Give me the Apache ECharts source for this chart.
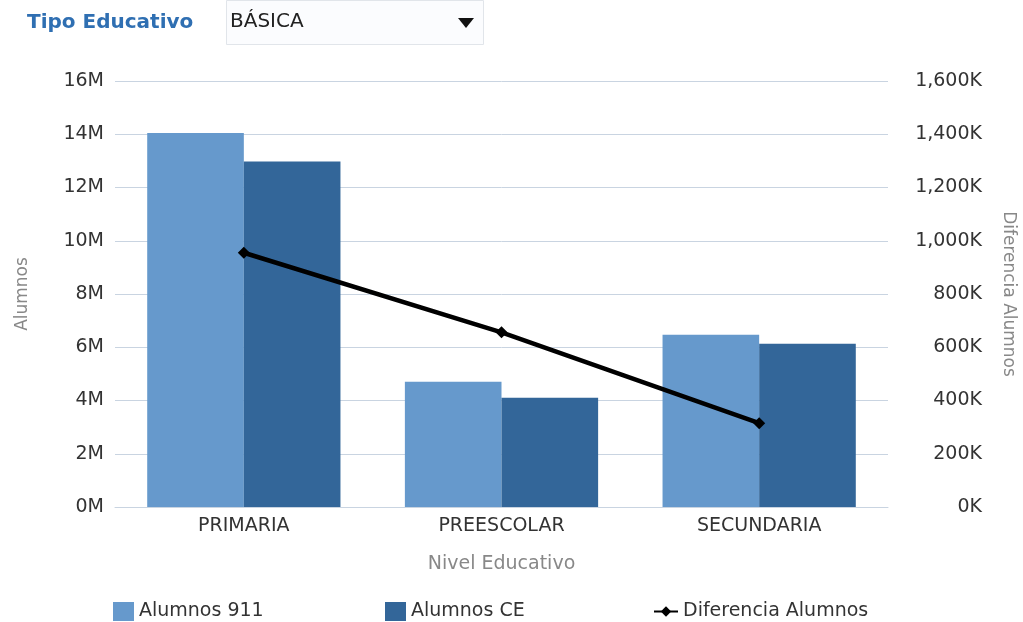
<!DOCTYPE html>
<html>
<head>
<meta charset="utf-8">
<script src="https://cdn.jsdelivr.net/npm/echarts@6/dist/echarts.min.js"></script>
<style>
html, body { margin: 0; padding: 0; background: #fff; overflow: hidden; }
#chart { width: 1023px; height: 622px; }
</style>
</head>
<body>
<div id="chart"></div>
<script>
const niveles = ['PRIMARIA', 'PREESCOLAR', 'SECUNDARIA']
const alumnos911 = [14050000, 4700000, 6470000]
const alumnosCE = [12980000, 4100000, 6130000]
const diferencia = [955000, 656000, 315000]

const font = 'DejaVu Sans, Verdana, sans-serif'
const chart = echarts.init(document.getElementById('chart'))

const legendText = { color: '#333', fontSize: 19, fontFamily: font }

const option = {
    backgroundColor: '#ffffff',
    textStyle: { fontFamily: font },
    title: {
        text: 'Tipo Educativo',
        left: 22,
        top: 8,
        textStyle: { color: '#2f6fb2', fontSize: 20, fontWeight: 'bold', fontFamily: font },
    },
    graphic: [
        {
            type: 'rect',
            left: 226,
            top: 0,
            shape: { width: 257, height: 44 },
            style: { fill: '#fbfcfe', stroke: '#e1e5ea', lineWidth: 1 },
        },
        {
            type: 'text',
            left: 230,
            top: 12,
            style: { text: 'BÁSICA', fill: '#222', font: '20px ' + font },
        },
        {
            type: 'polygon',
            shape: { points: [[458, 18], [474, 18], [466, 28]] },
            style: { fill: '#111' },
        },
    ],
    legend: [
        {
            data: [{ name: 'Alumnos 911', icon: 'rect' }],
            left: 108,
            top: 597,
            itemWidth: 21,
            itemHeight: 19,
            itemGap: 5,
            itemStyle: { borderWidth: 0 },
            textStyle: legendText,
        },
        {
            data: [{ name: 'Alumnos CE', icon: 'rect' }],
            left: 380,
            top: 597,
            itemWidth: 21,
            itemHeight: 19,
            itemStyle: { borderWidth: 0 },
            textStyle: legendText,
        },
        {
            data: ['Diferencia Alumnos'],
            left: 648,
            top: 597,
            itemWidth: 24,
            itemHeight: 13,
            textStyle: legendText,
        },
    ],
    grid: { left: 115, right: 135, top: 81, bottom: 115, outerBoundsMode: 'none' },
    xAxis: {
        type: 'category',
        data: niveles,
        name: 'Nivel Educativo',
        nameLocation: 'middle',
        nameGap: 48,
        nameTextStyle: { color: '#888', fontSize: 19 },
        axisLine: { lineStyle: { color: '#c9d4e1' } },
        axisTick: { show: false },
        axisLabel: { color: '#333', fontSize: 19, margin: 10 },
    },
    yAxis: [
        {
            type: 'value',
            min: 0,
            max: 16000000,
            interval: 2000000,
            name: 'Alumnos',
            nameLocation: 'middle',
            nameGap: 84,
            nameTextStyle: { color: '#888', fontSize: 17 },
            axisLine: { show: false },
            axisTick: { show: false },
            axisLabel: {
                color: '#333',
                fontSize: 19,
                margin: 11,
                formatter: (v) => v / 1000000 + 'M',
            },
            splitLine: { lineStyle: { color: '#c9d4e1' } },
        },
        {
            type: 'value',
            min: 0,
            max: 1600000,
            interval: 200000,
            name: 'Diferencia Alumnos',
            nameLocation: 'middle',
            nameGap: 112,
            nameRotate: -90,
            nameTextStyle: { color: '#888', fontSize: 17 },
            axisLine: { show: false },
            axisTick: { show: false },
            splitLine: { show: false },
            axisLabel: {
                color: '#333',
                fontSize: 19,
                align: 'right',
                margin: 94,
                formatter: (v) => (v / 1000).toLocaleString('en-US') + 'K',
            },
        },
    ],
    series: [
        {
            name: 'Alumnos 911',
            type: 'bar',
            data: alumnos911,
            barGap: '0%',
            barCategoryGap: '25%',
            itemStyle: { color: '#6699cc' },
        },
        {
            name: 'Alumnos CE',
            type: 'bar',
            data: alumnosCE,
            itemStyle: { color: '#336699' },
        },
        {
            name: 'Diferencia Alumnos',
            type: 'line',
            yAxisIndex: 1,
            data: diferencia,
            symbol: 'diamond',
            symbolSize: 12,
            lineStyle: { color: '#000', width: 4.5 },
            itemStyle: { color: '#000' },
            z: 5,
        },
    ],
}

chart.setOption(option)
</script>
</body>
</html>
